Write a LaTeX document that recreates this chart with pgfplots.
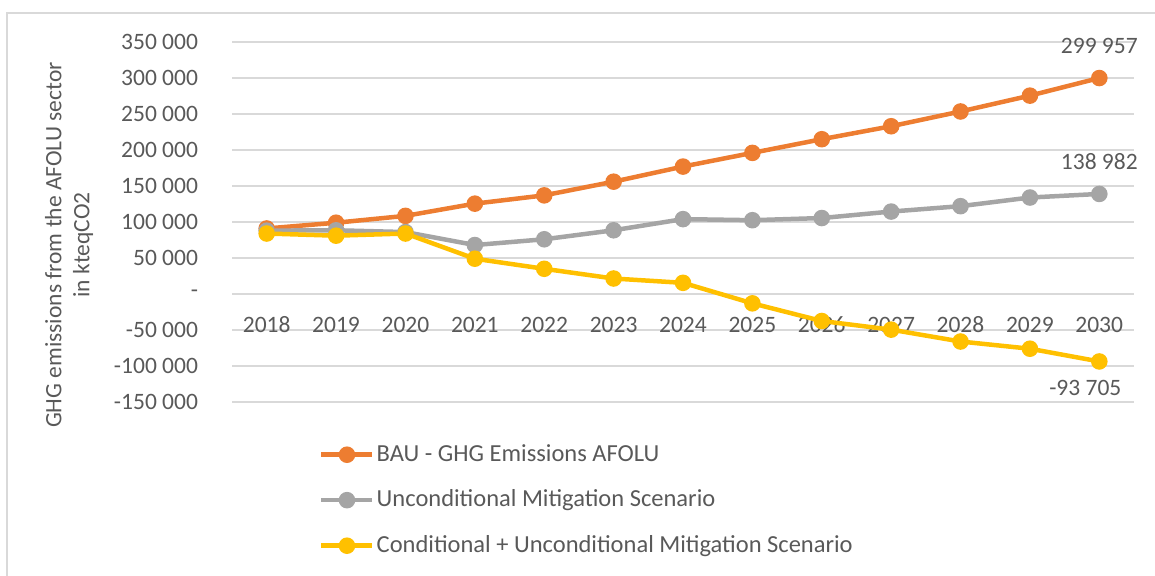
\documentclass[border=0pt]{standalone}
\usepackage{fontspec}
\setmainfont{Carlito}
\usepackage{pgfplots}
\pgfplotsset{compat=1.18}

\definecolor{bau}{HTML}{ED7D31}
\definecolor{unc}{HTML}{A5A5A5}
\definecolor{cond}{HTML}{FFC000}
\definecolor{txt}{HTML}{595959}
\definecolor{grd}{HTML}{D9D9D9}

\newcommand{\chartfont}{\fontsize{23.5}{28}\selectfont}
\newcommand{\legendfont}{\fontsize{24.5}{29}\selectfont}

\pgfplotstableread{
year  bau     unc     cond
2018  91000   88000   84000
2019  99000   88500   81000
2020  108500  86000   84000
2021  125500  68000   49000
2022  137000  76000   35000
2023  156000  88500   21500
2024  177000  104000  15500
2025  196000  102500  -13000
2026  215000  105500  -37500
2027  233000  114500  -49500
2028  253500  122000  -66000
2029  275500  134000  -76000
2030  299957  138982  -93705
}\emissions

\begin{document}
\chartfont
\begin{tikzpicture}[x=1pt,y=1pt]
\useasboundingbox (0,0) rectangle (1155,575);
% chart frame (right and bottom edges are cut off in the reference)
\draw[grd, line width=1.5pt] (7,-20) -- (7,562) -- (1180,562);

\begin{axis}[
  at={(232pt,173pt)}, anchor=south west,
  width=902pt, height=360pt, scale only axis,
  xmin=2017.5, xmax=2030.5,
  ymin=-150000, ymax=350000,
  xtick={2018,...,2030},
  xticklabels={2018,2019,2020,2021,2022,2023,2024,2025,2026,2027,2028,2029,2030},
  ytick={-150000,-100000,...,350000},
  yticklabels={-150 000,-100 000,-50 000,-,50 000,100 000,150 000,200 000,250 000,300 000,350 000},
  scaled y ticks=false,
  axis line style={draw=none},
  major tick length=0pt,
  ymajorgrids,
  major grid style={grd, line width=1.5pt},
  tick label style={font=\chartfont, text=txt},
  yticklabel style={anchor=east, xshift=-26pt},
  xticklabel style={anchor=base, yshift=69pt},
  ylabel={GHG emissions from the AFOLU sector\\in kteqCO2},
  ylabel style={font=\chartfont, text=txt, align=center, rotate=0,
    at={(axis description cs:-0.1807,0.436)}, anchor=center},
  every axis plot/.append style={line width=4.5pt, mark=*, mark size=6pt},
  legend style={at={(axis description cs:0.0965,-0.112)}, anchor=north west,
    draw=none, fill=none, font=\legendfont, text=txt, row sep=21pt,
    inner sep=0pt, cells={anchor=west}},
  legend cell align=left,
  legend image code/.code={
    \draw[mark repeat=2, mark phase=2, #1] plot coordinates {(0pt,0pt) (25.5pt,0pt) (51pt,0pt)};
  },
  clip=false,
]
\addplot[bau, mark options={fill=bau}] table[x=year, y=bau] {\emissions};
\addlegendentry{BAU - GHG Emissions AFOLU}
\addplot[unc, mark options={fill=unc}] table[x=year, y=unc] {\emissions};
\addlegendentry{Unconditional Mitigation Scenario}
\addplot[cond, mark options={fill=cond}] table[x=year, y=cond] {\emissions};
\addlegendentry{Conditional + Unconditional Mitigation Scenario}

\node[text=txt, font=\chartfont] at (axis cs:2030,299957) [yshift=32pt] {299 957};
\node[text=txt, font=\chartfont] at (axis cs:2030,138982) [yshift=32pt] {138 982};
\node[text=txt, font=\chartfont] at (axis cs:2030,-93705) [yshift=-26pt, xshift=-14pt] {-93 705};
\end{axis}
\end{tikzpicture}
\end{document}
